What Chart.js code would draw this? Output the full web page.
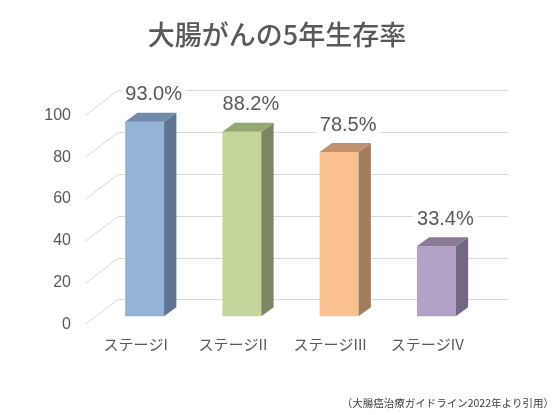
<!DOCTYPE html>
<html>
<head>
<meta charset="utf-8">
<script src="https://cdn.jsdelivr.net/npm/chart.js@4"></script>
<style>
  html, body { margin: 0; padding: 0; background: #fff; }
  #wrap { width: 554px; height: 415px; }
</style>
</head>
<body>
<div id="wrap"><canvas id="chart"></canvas></div>
<script>
const stages = ['ステージI', 'ステージII', 'ステージIII', 'ステージIV'];
const survival = [93.0, 88.2, 78.5, 33.4];
const yTicks = [0, 20, 40, 60, 80, 100];

const frontColors = ['#95B3D7', '#C3D69B', '#FAC090', '#B3A2C7'];
const sideColors = ['#5F7593', '#7B8762', '#A27D5E', '#736884'];
const topColors = ['#7189AA', '#95A773', '#C09270', '#877B98'];

const FONT = '"Noto Sans CJK JP", "Noto Sans", sans-serif';
const NUMFONT = '"Liberation Sans", Arial, sans-serif';
const TEXT = '#595959';
// depth of the fake 3d
const DX = 12.3, DY = 9;

// back wall + floor grid lines
const wallGrid = {
    id: 'wallGrid',
    beforeDatasetsDraw(chart) {
        const ctx = chart.ctx;
        const area = chart.chartArea;
        const y = chart.scales.y;
        ctx.save();
        ctx.strokeStyle = '#d9d9d9';
        ctx.lineWidth = 1;
        yTicks.forEach(v => {
            const py = Math.round(y.getPixelForValue(v)) + 0.5;
            ctx.beginPath();
            ctx.moveTo(area.left - 11, py);
            ctx.lineTo(area.left + 22, py - 25);
            ctx.lineTo(area.right + 23, py - 25);
            ctx.stroke();
        });
        ctx.restore();
    }
};

// side + top faces, then value labels
const bars3d = {
    id: 'bars3d',
    afterDatasetsDraw(chart) {
        const ctx = chart.ctx;
        const meta = chart.getDatasetMeta(0);
        ctx.save();
        meta.data.forEach((bar, i) => {
            const p = bar.getProps(['x', 'y', 'base', 'width'], true);
            const l = p.x - p.width / 2, r = p.x + p.width / 2;
            ctx.fillStyle = sideColors[i];
            ctx.beginPath();
            ctx.moveTo(r, p.y);
            ctx.lineTo(r + DX, p.y - DY);
            ctx.lineTo(r + DX, p.base - DY);
            ctx.lineTo(r, p.base);
            ctx.closePath();
            ctx.fill();
            ctx.fillStyle = topColors[i];
            ctx.beginPath();
            ctx.moveTo(l, p.y);
            ctx.lineTo(l + DX, p.y - DY);
            ctx.lineTo(r + DX, p.y - DY);
            ctx.lineTo(r, p.y);
            ctx.closePath();
            ctx.fill();

            const txt = survival[i].toFixed(1) + '%';
            ctx.font = '20px ' + NUMFONT;
            const w = ctx.measureText(txt).width;
            const cx = p.x + 9, cy = p.y - 27;
            ctx.fillStyle = '#fff';
            ctx.fillRect(cx - w / 2 - 4, cy - 11, w + 8, 22);
            ctx.fillStyle = TEXT;
            ctx.textAlign = 'center';
            ctx.textBaseline = 'middle';
            ctx.fillText(txt, cx, cy);
        });
        ctx.restore();
    }
};

const cfg = {
    type: 'bar',
    data: {
        labels: stages,
        datasets: [{
            data: survival,
            backgroundColor: frontColors,
            yAxisID: 'yb',
            categoryPercentage: 1,
            barPercentage: 0.4
        }]
    },
    options: {
        responsive: true,
        maintainAspectRatio: false,
        animation: false,
        layout: { padding: 0 },
        scales: {
            x: {
                grid: { display: false, drawTicks: false },
                border: { display: false },
                ticks: {
                    color: TEXT,
                    font: { family: FONT, size: 15 },
                    padding: 11,
                    labelOffset: -9,
                    maxRotation: 0
                }
            },
            y: {
                position: 'left',
                min: 0,
                max: 100,
                grid: { display: false, drawTicks: false },
                border: { display: false },
                ticks: {
                    stepSize: 20,
                    color: TEXT,
                    font: { family: NUMFONT, size: 16 },
                    padding: 25
                },
                afterFit(scale) { scale.width = 96; }
            },
            yb: {
                position: 'right',
                min: -3.94,
                max: 96.06,
                grid: { display: false, drawTicks: false },
                border: { display: false },
                ticks: { display: false },
                afterFit(scale) { scale.width = 69; }
            }
        },
        plugins: {
            legend: { display: false },
            tooltip: { enabled: false },
            title: {
                display: true,
                text: '大腸がんの5年生存率',
                color: TEXT,
                font: { family: FONT, size: 27, weight: 500 },
                padding: { top: 19, bottom: 64 }
            },
            subtitle: {
                display: true,
                position: 'bottom',
                align: 'end',
                text: '（大腸癌治療ガイドライン2022年より引用）',
                color: '#404040',
                font: { family: FONT, size: 10.5 },
                padding: { top: 32, bottom: 6 }
            }
        }
    },
    plugins: [wallGrid, bars3d]
};

const chart = new Chart(document.getElementById('chart').getContext('2d'), cfg);
</script>
</body>
</html>
